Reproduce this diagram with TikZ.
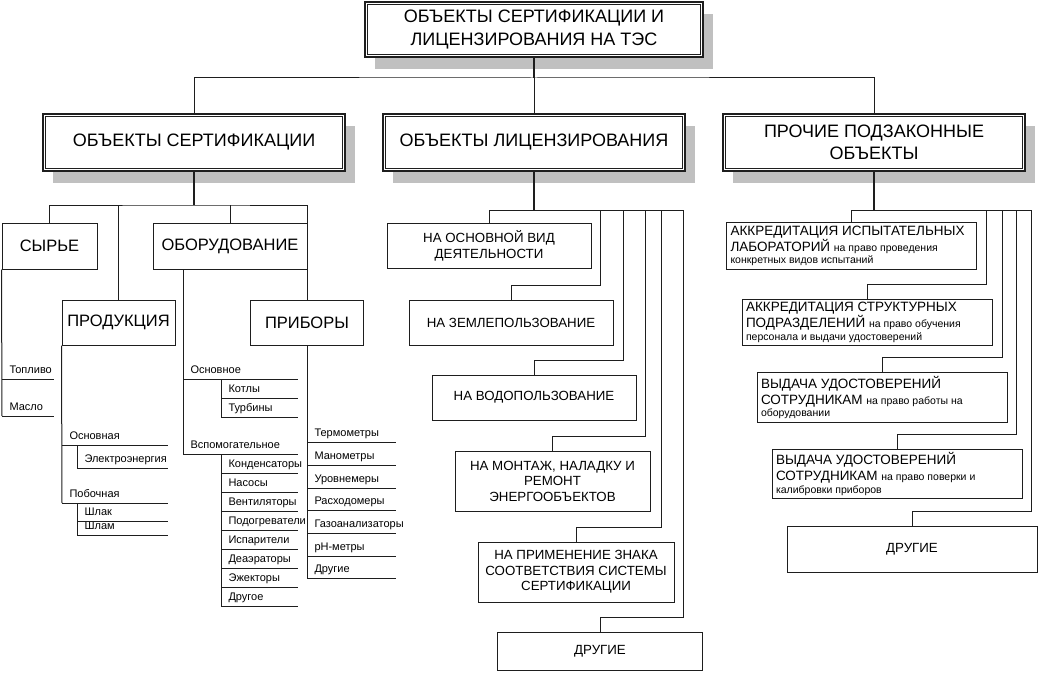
\documentclass[tikz,border=0pt]{standalone}
\usepackage{fontspec}
\setmainfont{Liberation Sans}
\usepackage{tikz}
\usetikzlibrary{shadows}
\definecolor{shadowgray}{RGB}{192,192,192}
\definecolor{inkgray}{RGB}{30,30,30}
\newcommand\headfont{\fontsize{18}{22.5}\selectfont}
\newcommand\catfont{\fontsize{16.5}{19}\selectfont}
\newcommand\licfont{\fontsize{13.3}{15.5}\selectfont}
\newcommand\leaffont{\fontsize{11}{13}\selectfont}
\newcommand\notefont{\fontsize{10.5}{12}\selectfont}

\begin{document}
\begin{tikzpicture}[x=1pt, y=-1pt, line width=1pt, draw=inkgray,
  headbox/.style={draw, line width=1.5pt, fill=white, minimum width=302pt, minimum height=57pt, align=center, font=\headfont, general shadow={fill=shadowgray, shadow xshift=10pt, shadow yshift=-12pt}},
  catbox/.style={draw, fill=white, minimum height=46pt, align=center, font=\catfont},
  licbox/.style={draw, fill=white, minimum width=204pt, minimum height=45pt, align=center, font=\licfont},
  othbox/.style={draw, fill=white, minimum width=250pt, minimum height=46pt, text width=242pt, inner xsep=4pt, align=flush left, font=\fontsize{13.5}{16}\selectfont},
  leaf/.style={anchor=south west, inner xsep=7pt, inner ysep=3pt, text depth=2.5pt, align=flush left, font=\leaffont},
  trunk/.style={line width=2pt}]
  \useasboundingbox (0,0) rectangle (1038,679);

  \node[headbox, minimum width=338pt, minimum height=55pt] (top) at (534,29.5) {ОБЪЕКТЫ СЕРТИФИКАЦИИ И\\ЛИЦЕНЗИРОВАНИЯ НА ТЭС};
  \node[headbox] (cert) at (194,142.5) {ОБЪЕКТЫ СЕРТИФИКАЦИИ};
  \node[headbox] (lic) at (534,142.5) {ОБЪЕКТЫ ЛИЦЕНЗИРОВАНИЯ};
  \node[headbox] (oth) at (874,142.5) {ПРОЧИЕ ПОДЗАКОННЫЕ\\ОБЪЕКТЫ};
  \foreach \n in {top,cert,lic,oth} \draw[line width=0.7pt] ([shift={(3,3)}]\n.north west) rectangle ([shift={(-3,-3)}]\n.south east);

  \coordinate (b1) at (534,78);
  \draw[trunk] (top.south) -- (b1);
  \draw (cert.north) |- (b1) -| (oth.north);
  \draw (b1) -- (lic.north);

  \node[catbox, minimum width=95pt] (raw) at (49.5,246) {СЫРЬЕ};
  \node[catbox, minimum width=154pt] (equip) at (230,246) {ОБОРУДОВАНИЕ};
  \node[catbox, minimum width=113pt, minimum height=45pt] (prod) at (118.5,322.5) {ПРОДУКЦИЯ};
  \node[catbox, minimum width=113pt, minimum height=45pt] (dev) at (307,322.5) {ПРИБОРЫ};
  \coordinate (b2) at (194,205);
  \draw[trunk] (cert.south) -- (b2);
  \draw (raw.north) |- (b2) -| (dev.north);
  \draw (prod.north) -- (prod.north |- b2);
  \draw (equip.north) -- (equip.north |- b2);

  \foreach \lbl/\y [count=\i] in {Топливо/379, Масло/416} \node[leaf, text width=37pt] (raw\i) at (2,\y) {\lbl};
  \draw (raw.south west) -- (raw2.south west);

  \node[leaf, text width=91pt] (pmain) at (62,445) {Основная};
  \node[leaf, text width=91pt] (pside) at (62,503) {Побочная};
  \node[leaf, text width=76pt] (pel) at (77,468) {Электроэнергия};
  \node[leaf, text width=76pt] (pslag) at (77,521) {Шлак};
  \node[leaf, text width=76pt] (psludge) at (77,535) {Шлам};
  \draw (prod.south west) -- (pside.south west);
  \draw (pel.south west) -- (pel.south west |- pmain.south);
  \draw (psludge.south west) -- (psludge.south west |- pside.south);

  \coordinate (eqs) at (183,269);
  \node[leaf, text width=100pt] (emain) at (183,379) {Основное};
  \node[leaf, text width=100pt] (eaux) at (183,454) {Вспомогательное};
  \foreach \lbl [count=\i] in {Котлы,Турбины} \node[leaf, text width=62pt] (em\i) at (221,{379+19*\i}) {\lbl};
  \foreach \lbl [count=\i] in {Конденсаторы,Насосы,Вентиляторы,Подогреватели,Испарители,Деаэраторы,Эжекторы,Другое}
    \node[leaf, text width=62pt] (ea\i) at (221,{454+19*\i}) {\lbl};
  \draw (eqs) -- (eaux.south west);
  \draw (em2.south west) -- (em2.south west |- emain.south);
  \draw (ea8.south west) -- (ea8.south west |- eaux.south);

  \foreach \lbl [count=\i] in {Термометры,Манометры,Уровнемеры,Расходомеры,Газоанализаторы,pH-метры,Другие}
    \node[leaf, text width=74pt] (dv\i) at (307,{420.3+22.67*\i}) {\lbl};
  \draw (dev.south) -- (dv7.south west);

  \foreach \n in {raw1,raw2,pmain,pside,pel,pslag,psludge,emain,eaux,em1,em2,ea1,ea2,ea3,ea4,ea5,ea6,ea7,ea8,dv1,dv2,dv3,dv4,dv5,dv6,dv7}
    \draw (\n.south west) -- (\n.south east);

  \node[licbox] (lic1) at (489,246) {НА ОСНОВНОЙ ВИД\\ДЕЯТЕЛЬНОСТИ};
  \node[licbox] (lic2) at (511,322.5) {НА ЗЕМЛЕПОЛЬЗОВАНИЕ};
  \node[licbox] (lic3) at (534,397.5) {НА ВОДОПОЛЬЗОВАНИЕ};
  \node[licbox, minimum width=195pt, minimum height=60pt] (lic4) at (552.5,481) {НА МОНТАЖ, НАЛАДКУ И\\РЕМОНТ\\ЭНЕРГООБЪЕКТОВ};
  \node[licbox, minimum width=196pt, minimum height=60pt] (lic5) at (576,572) {НА ПРИМЕНЕНИЕ ЗНАКА\\СООТВЕТСТВИЯ СИСТЕМЫ\\СЕРТИФИКАЦИИ};
  \node[licbox, minimum width=205pt, minimum height=38pt] (lic6) at (600,651) {ДРУГИЕ};
  \coordinate (b3) at (534,210);
  \foreach \n/\x in {2/600,3/623,4/645,5/661,6/683} \coordinate (lr\n) at (\x,210);
  \draw[trunk] (lic.south) -- (b3);
  \draw (lic1.north) |- (lr6);
  \foreach \n in {2,...,6} \draw (lr\n) |- ([yshift=14.5pt]lic\n.north) -- (lic\n.north);

  \node[othbox] (oth1) at (851.5,246) {АККРЕДИТАЦИЯ ИСПЫТАТЕЛЬНЫХ\\ЛАБОРАТОРИЙ {\notefont на право проведения}\\[-3.5pt]{\notefont конкретных видов испытаний}};
  \node[othbox] (oth2) at (867,322.5) {АККРЕДИТАЦИЯ СТРУКТУРНЫХ\\ПОДРАЗДЕЛЕНИЙ {\notefont на право обучения}\\[-3.5pt]{\notefont персонала и выдачи удостоверений}};
  \node[othbox] (oth3) at (882,397.5) {ВЫДАЧА УДОСТОВЕРЕНИЙ\\СОТРУДНИКАМ {\notefont на право работы на}\\[-3.5pt]{\notefont оборудовании}};
  \node[othbox] (oth4) at (897,474) {ВЫДАЧА УДОСТОВЕРЕНИЙ\\СОТРУДНИКАМ {\notefont на право поверки и}\\[-3.5pt]{\notefont калибровки приборов}};
  \node[othbox, align=center, font=\licfont] (oth5) at (912,549) {ДРУГИЕ};
  \coordinate (b4) at (874,210);
  \foreach \n/\x in {2/986,3/1002,4/1016,5/1031} \coordinate (rr\n) at (\x,210);
  \draw[trunk] (oth.south) -- (b4);
  \draw (oth1.north) |- (rr5);
  \foreach \n in {2,...,5} \draw (rr\n) |- ([yshift=14.5pt]oth\n.north) -- (oth\n.north);
\end{tikzpicture}
\end{document}
